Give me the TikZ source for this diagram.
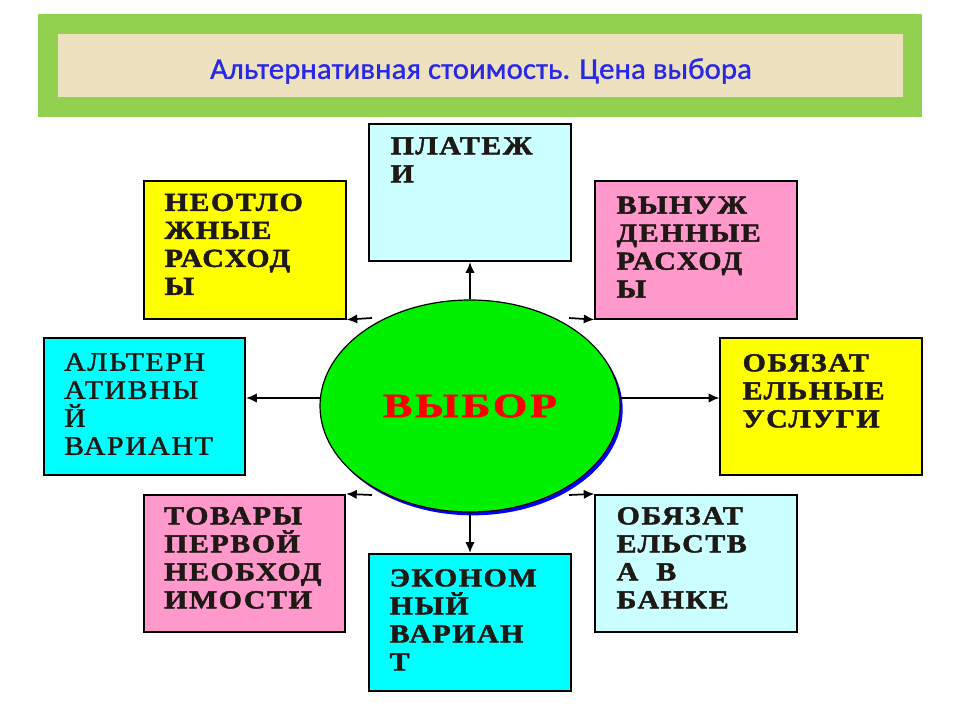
\documentclass[tikz,border=0pt]{standalone}
\usepackage{fontspec}
\setmainfont{Liberation Serif}
\newfontfamily\titlefont[FakeBold=1,FakeStretch=1.03]{Carlito}
\newfontfamily\boxfont[FakeStretch=1.15,FakeBold=1.8,LetterSpace=6]{Liberation Serif}
\newfontfamily\boxfontr[FakeStretch=1.12,FakeBold=1.6,LetterSpace=6]{Liberation Serif}
\newfontfamily\bigfont[FakeStretch=1.3,FakeBold=1.5,LetterSpace=8]{Liberation Serif}
\usetikzlibrary{arrows.meta,shapes.geometric,shadows}
\definecolor{bandgreen}{RGB}{146,208,80}
\definecolor{beige}{RGB}{238,225,192}
\definecolor{titleblue}{RGB}{40,40,230}
\definecolor{lcyan}{RGB}{204,255,255}
\definecolor{cyanbox}{RGB}{0,255,255}
\definecolor{yelbox}{RGB}{255,255,0}
\definecolor{pinkbox}{RGB}{255,153,204}
\definecolor{ellgreen}{RGB}{0,240,0}
\definecolor{txtdark}{RGB}{30,25,20}
\begin{document}
\begin{tikzpicture}[x=0.75pt,y=-0.75pt,
  box/.style={draw=black,line width=1.4pt,minimum width=151pt,minimum height=103pt,inner sep=0pt},
  lbl/.style={anchor=north west,inner sep=0pt,align=left,text=txtdark,
    font=\boxfont\bfseries\fontsize{19.5}{21}\selectfont},
  lblr/.style={lbl,font=\boxfontr\fontsize{20}{21}\selectfont},
  arr/.style={line width=1.3pt,-{Latex[length=8pt,width=7pt]}}]
\useasboundingbox (0,0) rectangle (960,720);
\fill[white] (0,0) rectangle (960,720);
% title band
\fill[bandgreen] (38,14) rectangle (922,117);
\fill[beige] (58,34) rectangle (903,97);
\node[font=\titlefont\fontsize{22.5}{26}\selectfont,text=titleblue] (title) at (481,71) {Альтернативная стоимость. Цена выбора};
% boxes
\node[box,fill=lcyan] (plat) at (470,192.5) {};
\node[box,fill=yelbox] (neot) at (245,250) {};
\node[box,fill=pinkbox] (vyn) at (696,250) {};
\node[box,fill=cyanbox] (alt) at (144.5,406.5) {};
\node[box,fill=yelbox] (usl) at (821,406.5) {};
\node[box,fill=pinkbox] (tov) at (244.5,563.5) {};
\node[box,fill=cyanbox] (ekon) at (470,622.5) {};
\node[box,fill=lcyan] (bank) at (696,563.5) {};
% labels
\node[lbl] (platt) at ([shift={(22,14)}]plat.north west) {ПЛАТЕЖ\\И};
\node[lbl] (neott) at ([shift={(21,13)}]neot.north west) {НЕОТЛО\\ЖНЫЕ\\РАСХОД\\Ы};
\node[lbl] (vynt) at ([shift={(22,16)}]vyn.north west) {ВЫНУЖ\\ДЕННЫЕ\\РАСХОД\\Ы};
\node[lblr] (altt) at ([shift={(21,16)}]alt.north west) {АЛЬТЕРН\\АТИВНЫ\\Й\\ВАРИАНТ};
\node[lbl] (uslt) at ([shift={(23,17)}]usl.north west) {ОБЯЗАТ\\ЕЛЬНЫЕ\\УСЛУГИ};
\node[lbl] (tovt) at ([shift={(21,13)}]tov.north west) {ТОВАРЫ\\ПЕРВОЙ\\НЕОБХОД\\ИМОСТИ};
\node[lbl] (ekont) at ([shift={(21,16)}]ekon.north west) {ЭКОНОМ\\НЫЙ\\ВАРИАН\\Т};
\node[lbl] (bankt) at ([shift={(22,13)}]bank.north west) {ОБЯЗАТ\\ЕЛЬСТВ\\А\ \ В\\БАНКЕ};
% ellipse
\node[ellipse,draw=black,line width=0.9pt,fill=ellgreen,minimum width=225pt,minimum height=159pt,inner sep=0pt,
  drop shadow={shadow xshift=2pt,shadow yshift=-2.5pt,fill=blue,opacity=1},
  text=red,font=\bigfont\bfseries\fontsize{25.5}{30}\selectfont] (ell) at (470,406) {ВЫБОР};
% connectors
\coordinate (lw) at (321,398);
\coordinate (rw) at (620,398);
\coordinate (ulS) at (372,318);
\coordinate (urS) at (569,318);
\coordinate (llS) at (372,495);
\coordinate (lrS) at (569,495);
\draw[arr] (ell.north) -- (ell.north |- plat.south);
\draw[arr] (ell.south) -- (ell.south |- ekon.north);
\draw[arr] (lw) -- (alt.east |- lw);
\draw[arr] (rw) -- (usl.west |- rw);
\draw[arr] (ulS) -- (neot.south east);
\draw[arr] (urS) -- (vyn.south west);
\draw[arr] (llS) -- (tov.north east);
\draw[arr] (lrS) -- (bank.north west);
\end{tikzpicture}
\end{document}
